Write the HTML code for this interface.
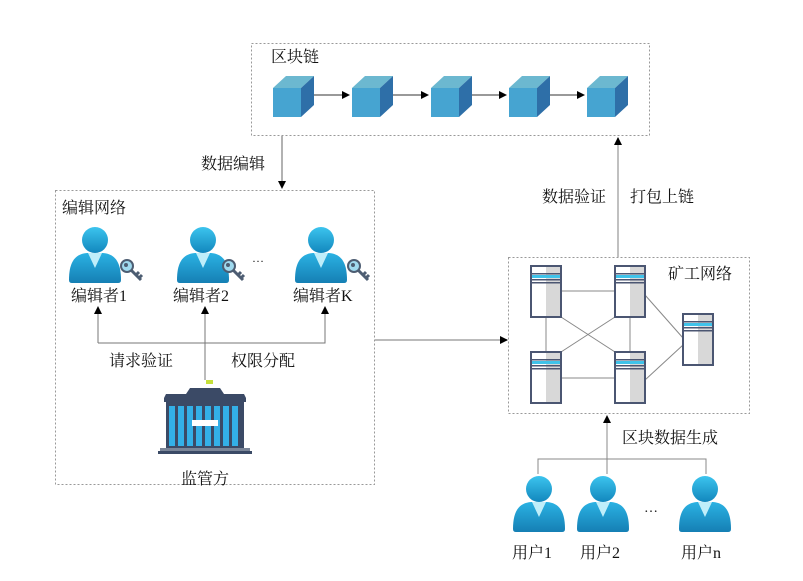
<!DOCTYPE html>
<html><head><meta charset="utf-8"><style>
html,body{margin:0;padding:0;background:#fff;}
svg{display:block;}
text{font-family:"Liberation Serif","Noto Serif CJK SC",serif;font-size:16px;fill:#111;}
</style></head><body>
<svg width="803" height="581" viewBox="0 0 803 581" xmlns="http://www.w3.org/2000/svg">
<defs>
<linearGradient id="pg" x1="0" y1="0" x2="0" y2="1"><stop offset="0" stop-color="#3cc4ee"/><stop offset="1" stop-color="#1287bd"/></linearGradient>
<linearGradient id="bg" x1="0" y1="0" x2="0" y2="1"><stop offset="0" stop-color="#2bb2e3"/><stop offset="1" stop-color="#157fb4"/></linearGradient>
<marker id="ar" markerWidth="8" markerHeight="8" refX="7" refY="4" orient="auto" markerUnits="userSpaceOnUse"><path d="M0,0 L8,4 L0,8 z" fill="#000"/></marker>
<g id="person">
<circle cx="0" cy="0" r="13" fill="url(#pg)"/>
<path d="M-26,40 C-26,22 -20,14 -8,13 L8,13 C20,14 26,22 26,40 Q26,43 23,43 L-23,43 Q-26,43 -26,40 z" fill="url(#bg)"/>
<path d="M-7,13 L7,13 L0,28 z" fill="#bfeefa"/>
</g>
<g id="key">
<circle cx="0" cy="0" r="6" fill="#9fd9ee" stroke="#4d5d72" stroke-width="2"/>
<circle cx="-1" cy="-1" r="2" fill="#4d5d72"/>
<path d="M4,4 L14,14 M9,9 L12,6 M12,12 L15,9" stroke="#4d5d72" stroke-width="3" fill="none"/>
</g>
<g id="cube">
<path d="M0,12 L13,0 L41,0 L28,12 z" fill="#6cb8d0"/>
<path d="M28,12 L41,0 L41,29 L28,41 z" fill="#2e6fa8"/>
<rect x="0" y="12" width="28" height="29" fill="#46a4d1"/>
</g>
<g id="srv">
<rect x="0" y="0" width="30" height="51" fill="#fff" stroke="#4b5672" stroke-width="2"/>
<rect x="15" y="1" width="14" height="49" fill="#d8d8d8"/>
<rect x="1" y="7" width="28" height="1.5" fill="#4b5672"/>
<rect x="1" y="9" width="28" height="3" fill="#3fc3ea"/>
<rect x="1" y="13" width="28" height="1.5" fill="#4b5672"/>
<rect x="1" y="16" width="28" height="1.5" fill="#4b5672"/>
</g>
</defs>

<!-- boxes -->
<g fill="none" stroke="#999" stroke-dasharray="2,2" stroke-width="1">
<rect x="251.5" y="43.5" width="398" height="92"/>
<rect x="55.5" y="190.5" width="319" height="294"/>
<rect x="508.5" y="257.5" width="241" height="156"/>
</g>

<!-- blockchain -->
<text x="271" y="62">区块链</text>
<g stroke="#333" stroke-width="1" marker-end="url(#ar)">
<line x1="301" y1="95" x2="349" y2="95"/>
<line x1="380" y1="95" x2="428" y2="95"/>
<line x1="459" y1="95" x2="506" y2="95"/>
<line x1="537" y1="95" x2="584" y2="95"/>
</g>
<use href="#cube" x="273" y="76"/>
<use href="#cube" x="352" y="76"/>
<use href="#cube" x="431" y="76"/>
<use href="#cube" x="509" y="76"/>
<use href="#cube" x="587" y="76"/>

<!-- connectors top -->
<line x1="282" y1="136" x2="282" y2="188" stroke="#666" marker-end="url(#ar)"/>
<text x="201" y="169">数据编辑</text>
<line x1="618" y1="257" x2="618" y2="138" stroke="#aaa" stroke-width="1.5" marker-end="url(#ar)"/>
<text x="542" y="202">数据验证</text>
<text x="630" y="202">打包上链</text>

<!-- edit network -->
<text x="62" y="213">编辑网络</text>
<use href="#person" x="95" y="240"/>
<use href="#person" x="203" y="240"/>
<use href="#person" x="321" y="240"/>
<use href="#key" x="127" y="266"/>
<use href="#key" x="229" y="266"/>
<use href="#key" x="354" y="266"/>
<text x="252" y="262" style="font-size:12px">…</text>
<text x="71" y="301">编辑者1</text>
<text x="173" y="301">编辑者2</text>
<text x="293" y="301">编辑者K</text>
<g stroke="#777" stroke-width="1" fill="none">
<polyline points="98,343 98,322 "/>
<polyline points="98,343 325,343 325,322"/>
<line x1="205" y1="380" x2="205" y2="322"/>
</g>
<g fill="#000">
<path d="M94,314 L102,314 L98,306 z"/>
<path d="M201,314 L209,314 L205,306 z"/>
<path d="M321,314 L329,314 L325,306 z"/>
</g>
<line x1="98" y1="314" x2="98" y2="322" stroke="#777"/>
<line x1="205" y1="314" x2="205" y2="322" stroke="#777"/>
<line x1="325" y1="314" x2="325" y2="322" stroke="#777"/>
<text x="109" y="366">请求验证</text>
<text x="231" y="366">权限分配</text>

<!-- building -->
<rect x="206" y="380" width="7" height="4" fill="#c6e03a"/>
<path d="M186,394 L190,388 L220,388 L224,394 L244,394 L246,398 L164,398 L166,394 z" fill="#3b4a66"/>
<rect x="164" y="398" width="82" height="4" fill="#3b4a66"/>
<rect x="166" y="402" width="78" height="46" fill="#3b4a66"/>
<g fill="#33b0e8">
<rect x="169" y="406" width="6" height="40"/><rect x="178" y="406" width="6" height="40"/><rect x="187" y="406" width="6" height="40"/>
<rect x="196" y="406" width="6" height="40"/><rect x="205" y="406" width="6" height="40"/><rect x="214" y="406" width="6" height="40"/>
<rect x="223" y="406" width="6" height="40"/><rect x="232" y="406" width="6" height="40"/>
</g>
<rect x="192" y="420" width="26" height="6" fill="#fff"/>
<rect x="160" y="448" width="90" height="3" fill="#7a8598"/>
<rect x="158" y="451" width="94" height="3" fill="#3b4a66"/>
<text x="181" y="484">监管方</text>

<!-- to miners -->
<line x1="375" y1="340" x2="507" y2="340" stroke="#bbb" stroke-width="2" marker-end="url(#ar)"/>

<!-- miners -->
<text x="668" y="279">矿工网络</text>
<g stroke="#888" stroke-width="1">
<line x1="561" y1="291" x2="615" y2="291"/>
<line x1="561" y1="378" x2="615" y2="378"/>
<line x1="546" y1="317" x2="546" y2="352"/>
<line x1="630" y1="317" x2="630" y2="352"/>
<line x1="561" y1="317" x2="615" y2="352"/>
<line x1="615" y1="317" x2="561" y2="352"/>
<line x1="645" y1="295" x2="683" y2="338"/>
<line x1="645" y1="380" x2="683" y2="345"/>
</g>
<use href="#srv" x="531" y="266"/>
<use href="#srv" x="615" y="266"/>
<use href="#srv" x="531" y="352"/>
<use href="#srv" x="615" y="352"/>
<use href="#srv" x="683" y="314"/>

<!-- users -->
<line x1="607" y1="474" x2="607" y2="416" stroke="#888" stroke-width="1" marker-end="url(#ar)"/>
<text x="622" y="443">区块数据生成</text>
<polyline points="538,474 538,459 706,459 706,474" fill="none" stroke="#888" stroke-width="1"/>
<use href="#person" x="539" y="489"/>
<use href="#person" x="603" y="489"/>
<use href="#person" x="705" y="489"/>
<text x="644" y="512" style="font-size:14px">…</text>
<text x="512" y="558">用户1</text>
<text x="580" y="558">用户2</text>
<text x="681" y="558">用户n</text>
</svg>
</body></html>
